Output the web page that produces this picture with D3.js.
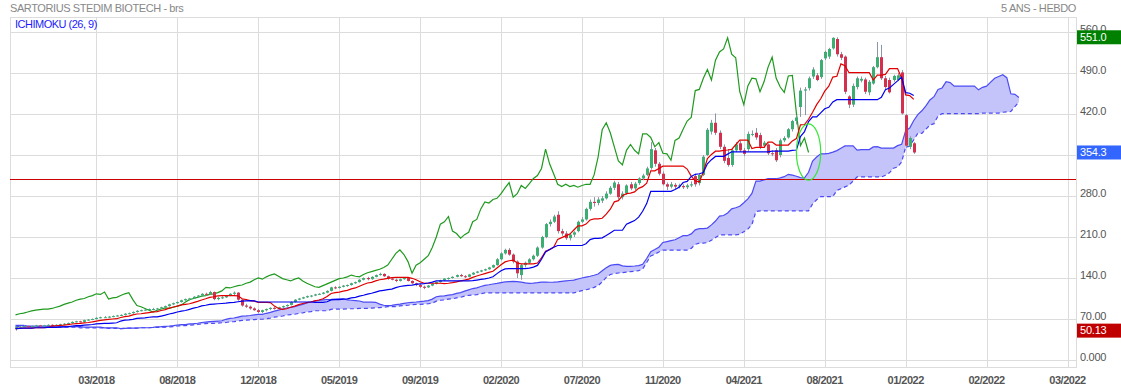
<!DOCTYPE html>
<meta charset="utf-8">
<title>SARTORIUS STEDIM BIOTECH - Ichimoku</title>
<style>
body { margin:0; background:#fff; }
svg text { font-family: "Liberation Sans", Arial, sans-serif; }
.yaxis text { font-size:11px; fill:#555; letter-spacing:-0.3px; }
.xaxis text { font-size:11px; font-weight:bold; fill:#555; text-anchor:middle; letter-spacing:-0.5px; }
.grid line { stroke:#dcdcdc; stroke-width:1; shape-rendering:crispEdges; }
</style>
<svg width="1121" height="391"></svg>
<script src="https://cdn.jsdelivr.net/npm/d3@7"></script>
<script>

// weekly candles
var opens = [
  54,56,57,58,57,58,59,58,59,60, 59,60,61,62,63,65,66,65,68,69,
  70,72,73,73,74,75,76,77,79,80, 82,84,85,86,87,87,88,90,92,95,
  97,99,102,104,105,108,110,113,112,116, 104,106,107,110,113,115,103,93,91,88,
  85,82,85,87,89,88,90,92,94,99, 103,105,107,109,110,112,113,115,118,124,
  123,125,127,128,131,133,137,140,138,142, 145,147,143,139,137,135,138,140,135,131,
  128,125,124,127,130,133,136,139,140,142, 145,143,142,146,149,151,153,155,158,162,
  172,182,188,180,168,145,162,166,172,178, 192,210,232,236,248,220,216,208,214,220,
  236,240,258,270,268,272,276,284,294,300, 278,285,300,293,302,310,316,328,358,335,
  318,300,296,299,296,297,295,298,314,302, 316,350,390,405,388,364,345,333,358,370,
  358,360,386,388,384,366,368,353,358,350, 375,380,394,408,432,460,464,484,486,483,
  515,518,532,548,522,518,450,436,466,477, 479,457,472,500,517,481,478,478,478,491,
  418,364,370
];
var highs = [
  57,58,59,59,59,60,60,60,61,61, 61,62,63,64,66,67,67,69,70,71,
  73,74,75,75,76,77,78,80,81,83, 85,86,87,88,89,89,91,93,96,98,
  100,103,105,106,109,111,114,115,118,117, 108,109,111,114,117,116,104,96,93,90,
  87,86,88,90,91,91,93,95,100,104, 106,108,110,111,113,114,116,119,125,126,
  126,128,129,132,134,138,141,142,143,146, 149,148,144,141,139,139,141,141,136,132,
  130,127,128,131,134,137,140,141,143,146, 147,145,147,150,152,154,156,159,163,174,
  184,190,191,182,170,164,168,174,180,194, 212,234,240,248,254,224,220,216,220,238,
  244,260,274,278,278,280,288,297,306,304, 288,300,304,304,312,318,330,372,362,338,
  322,303,304,302,301,300,301,305,318,318, 350,396,410,421,392,368,360,362,372,374,
  362,390,392,396,388,374,370,358,362,378, 382,396,410,418,465,466,484,500,490,514,
  528,533,551,551,526,520,452,472,484,484, 482,478,502,543,538,485,482,487,490,495,
  420,382,372
];
var lows = [
  50.13,55,56,56,56,57,57,57,58,58, 58,59,60,61,62,64,64,64,67,68,
  69,71,72,72,73,74,75,76,78,79, 81,83,84,85,85,86,87,89,91,94,
  96,98,101,102,104,107,109,110,111,102, 102,104,106,109,111,101,91,89,86,84,
  80,80,83,85,86,87,89,91,93,98, 102,104,106,107,109,111,112,114,117,121,
  122,124,125,127,130,132,136,136,137,141, 144,142,137,136,133,134,137,134,130,126,
  123,121,123,126,129,132,135,137,139,141, 142,140,141,145,148,150,152,154,157,161,
  170,180,178,165,140,137,158,164,170,176, 190,208,228,234,216,212,205,204,210,218,
  234,238,255,262,264,268,274,282,290,274, 274,282,290,290,299,307,314,325,330,315,
  298,290,293,292,293,292,292,295,296,298, 314,348,385,384,360,336,330,330,355,355,
  348,356,382,376,360,362,350,348,338,346, 372,378,390,402,415,418,460,480,476,480,
  512,514,530,518,512,454,430,432,462,474, 454,452,470,498,478,462,455,475,476,419,
  362,360,352
];
var closes = [
  56,57,58,57,58,59,58,59,60,59, 60,61,62,63,65,66,65,68,69,70,
  72,73,73,74,75,76,77,79,80,82, 84,85,86,87,87,88,90,92,95,97,
  99,102,104,105,108,110,113,112,116,104, 106,107,110,113,115,103,93,91,88,85,
  82,85,87,89,88,90,92,94,99,103, 105,107,109,110,112,113,115,118,124,123,
  125,127,128,131,133,137,140,138,142,145, 147,143,139,137,135,138,140,135,131,128,
  125,124,127,130,133,136,139,140,142,145, 143,142,146,149,151,153,155,158,162,172,
  182,188,180,168,148,162,166,172,178,192, 210,232,236,245,220,216,208,214,218,236,
  240,258,270,268,274,276,284,294,303,278, 284,298,293,301,310,315,327,360,335,318,
  300,296,300,296,298,295,298,300,300,316, 347,393,405,388,364,340,333,358,368,358,
  352,386,386,380,364,371,353,352,341,375, 379,394,408,414,460,462,481,496,478,512,
  526,531,550,522,516,458,436,468,481,480, 458,475,500,517,481,466,457,485,486,421,
  366,379,354.3
];

// cloud spans over the first 26 weeks (their source lies before the window)
var spanAStart = [59,59,59,58,58,58,58,58,58,58,58,57,57,57,57,57,57,56,56,56,56,56,55,55,55,55];
var spanBStart = [57,57,57,57,57,57,57,56,56,56,56,56,56,56,56,56,55,55,55,55,55,55,55,54,54,54];

var xTickIdx    = [20, 40, 60, 80, 100, 120, 140, 160, 180, 200, 220, 240, 260];
var xTickLabels = ["03/2018","08/2018","12/2018","05/2019","09/2019","02/2020","07/2020",
                   "11/2020","04/2021","08/2021","01/2022","02/2022","03/2022"];
var yTicks      = [0, 70, 140, 210, 280, 350, 420, 490, 560];
var yTickLabels = ["0.000","70.00","140.0","210.0","280.0","","420.0","490.0","560.0"];

var highMark = 551.0, lowMark = 50.13, lastMark = 354.3;
var supportLevel = 309;              // red horizontal line
var circled = {i: 196, v: 355, di: 3, dv: 48};   // green ellipse
var tenkanLen = 9, kijunLen = 26, spanBLen = 52, lag = 26;

var svg = d3.select("svg"),
    plotL = 10, plotR = 1076, plotT = 17, plotB = 367;

svg.append("rect").attr("width", 1121).attr("height", 391).attr("fill", "#fff");

var x = d3.scaleLinear().domain([-1.36, 262.1]).range([plotL, plotR]);
var y = d3.scaleLinear().domain([0, 560]).range([360, 32]);

svg.append("defs").append("clipPath").attr("id", "plot")
  .append("rect").attr("x", plotL).attr("y", plotT)
  .attr("width", plotR - plotL).attr("height", plotB - plotT);

// grid
var grid = svg.append("g").attr("class", "grid");
grid.selectAll(".v").data(xTickIdx).enter().append("line")
  .attr("x1", function(d){ return Math.round(x(d)) + 0.5; })
  .attr("x2", function(d){ return Math.round(x(d)) + 0.5; })
  .attr("y1", plotT).attr("y2", plotB);
grid.selectAll(".h").data(yTicks).enter().append("line")
  .attr("x1", plotL).attr("x2", plotR)
  .attr("y1", function(d){ return Math.round(y(d)) + 0.5; })
  .attr("y2", function(d){ return Math.round(y(d)) + 0.5; });
svg.append("rect").attr("x", plotL + 0.5).attr("y", plotT + 0.5)
  .attr("width", plotR - plotL).attr("height", plotB - plotT)
  .attr("fill", "none").attr("stroke", "#dcdcdc");

// ichimoku lines
function midRange(i, len) {
  var s = Math.max(0, i - len + 1);
  return (d3.max(highs.slice(s, i + 1)) + d3.min(lows.slice(s, i + 1))) / 2;
}
var n = closes.length;
var tenkan = [], kijun = [], chikou = [], cloud = [];
spanAStart.forEach(function(a, k){ cloud.push({i: k, a: a, b: spanBStart[k]}); });
for (var i = 0; i < n; i++) {
  tenkan.push({i: i, v: midRange(i, tenkanLen)});
  kijun.push({i: i, v: midRange(i, kijunLen)});
  if (i >= lag) chikou.push({i: i - lag, v: closes[i]});
  cloud.push({i: i + lag,
              a: (midRange(i, tenkanLen) + midRange(i, kijunLen)) / 2,
              b: midRange(i, spanBLen)});
}

var plot = svg.append("g").attr("clip-path", "url(#plot)");

plot.append("path").datum(cloud)
  .attr("d", d3.area().x(function(d){ return x(d.i); })
    .y0(function(d){ return y(d.b); }).y1(function(d){ return y(d.a); }))
  .attr("fill", "#c4c4fb");
plot.append("path").datum(cloud)
  .attr("d", d3.line().x(function(d){ return x(d.i); }).y(function(d){ return y(d.a); }))
  .attr("fill", "none").attr("stroke", "#4b4bf5").attr("stroke-width", 1.2);
plot.append("path").datum(cloud)
  .attr("d", d3.line().x(function(d){ return x(d.i); }).y(function(d){ return y(d.b); }))
  .attr("fill", "none").attr("stroke", "#4b4bf5").attr("stroke-width", 1.2)
  .attr("stroke-dasharray", "4,3");

plot.append("line")
  .attr("x1", plotL).attr("x2", plotR)
  .attr("y1", Math.round(y(supportLevel)) + 0.5).attr("y2", Math.round(y(supportLevel)) + 0.5)
  .attr("stroke", "#cc0000").attr("stroke-width", 1);

var line = d3.line().x(function(d){ return x(d.i); }).y(function(d){ return y(d.v); });
plot.append("path").datum(chikou).attr("d", line)
  .attr("fill", "none").attr("stroke", "#1f9a1f").attr("stroke-width", 1.2);

// candles
var candles = plot.selectAll(".candle").data(d3.range(n)).enter().append("g");
candles.append("line")
  .attr("x1", function(d){ return Math.round(x(d)) + 0.5; })
  .attr("x2", function(d){ return Math.round(x(d)) + 0.5; })
  .attr("y1", function(d){ return y(highs[d]); })
  .attr("y2", function(d){ return y(lows[d]); })
  .attr("stroke", "#8a96a8").attr("stroke-width", 1);
candles.append("rect")
  .attr("x", function(d){ return Math.round(x(d)) - 1; })
  .attr("width", 3)
  .attr("y", function(d){ return y(Math.max(opens[d], closes[d])); })
  .attr("height", function(d){ return Math.max(1, Math.abs(y(opens[d]) - y(closes[d]))); })
  .attr("fill", function(d){ return closes[d] >= opens[d] ? "#3cae72" : "#d2304e"; });

plot.append("path").datum(tenkan).attr("d", line)
  .attr("fill", "none").attr("stroke", "#e00000").attr("stroke-width", 1.2);
plot.append("path").datum(kijun).attr("d", line)
  .attr("fill", "none").attr("stroke", "#0000ee").attr("stroke-width", 1.2);

plot.append("ellipse")
  .attr("cx", x(circled.i)).attr("cy", y(circled.v))
  .attr("rx", x(circled.i + circled.di) - x(circled.i))
  .attr("ry", y(circled.v - circled.dv) - y(circled.v))
  .attr("fill", "none").attr("stroke", "#33e833").attr("stroke-width", 1.2);

// axes
var yax = svg.append("g").attr("class", "yaxis");
yax.selectAll("text").data(yTicks).enter().append("text")
  .attr("x", 1080).attr("y", function(d){ return y(d); }).attr("dy", "-0.2em")
  .attr("dominant-baseline", "middle")
  .text(function(d, i){ return yTickLabels[i]; });

var xax = svg.append("g").attr("class", "xaxis");
xax.selectAll("text").data(xTickIdx).enter().append("text")
  .attr("x", function(d){ return x(d); }).attr("y", 384)
  .text(function(d, i){ return xTickLabels[i]; });

var marks = [
  {v: highMark, t: highMark.toFixed(1), c: "#008000"},
  {v: lastMark, t: lastMark.toFixed(1), c: "#3366ff"},
  {v: lowMark,  t: lowMark.toFixed(2),  c: "#c00000"}
];
var mk = svg.selectAll(".mark").data(marks).enter().append("g");
mk.append("rect").attr("x", 1077).attr("width", 44)
  .attr("y", function(d){ return y(d.v) - 7; }).attr("height", 14)
  .attr("fill", function(d){ return d.c; });
mk.append("text").attr("x", 1080).attr("y", function(d){ return y(d.v); })
  .attr("dy", "0.05em").attr("dominant-baseline", "middle")
  .attr("fill", "#fff").style("font-size", "11px").style("letter-spacing", "-0.2px")
  .text(function(d){ return d.t; });

// titles
svg.append("text").attr("x", 10).attr("y", 12).attr("fill", "#888")
  .style("font-size", "11px").style("letter-spacing", "-0.4px")
  .text("SARTORIUS STEDIM BIOTECH - brs");
svg.append("text").attr("x", 1076).attr("y", 12).attr("fill", "#888")
  .attr("text-anchor", "end").style("font-size", "11px").style("letter-spacing", "-0.4px")
  .text("5 ANS - HEBDO");
svg.append("text").attr("x", 15).attr("y", 28).attr("fill", "#1a1aff")
  .style("font-size", "11px").style("letter-spacing", "-0.5px")
  .text("ICHIMOKU (26, 9)");

</script>
